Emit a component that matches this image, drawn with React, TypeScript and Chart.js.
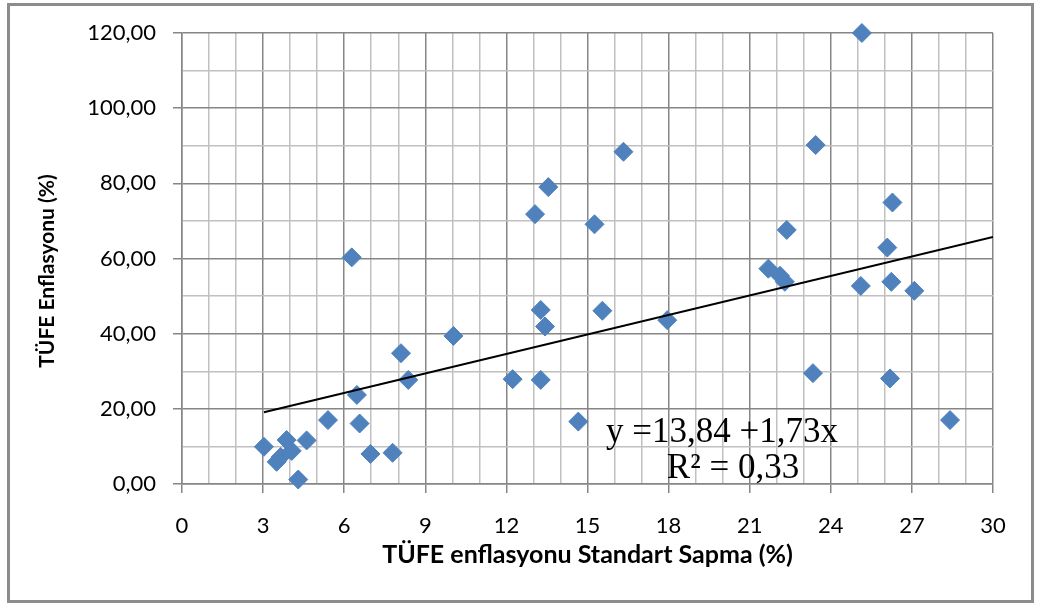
import React, { useEffect, useRef } from "react";
import { Chart, registerables } from "chart.js";

Chart.register(...registerables);

// Data
const stdDevValues: number[] = [
  3.03, 3.5, 3.65, 3.87, 4.06, 4.3, 4.61, 5.4, 6.28, 6.47, 6.57, 6.97, 7.79, 8.1,
  8.37, 10.04, 12.23, 13.06, 13.27, 13.27, 13.43, 13.55, 14.66, 15.26, 15.55,
  16.33, 17.95, 21.69, 22.12, 22.3, 22.37, 23.34, 23.44, 25.11, 25.15, 26.09,
  26.19, 26.24, 26.28, 27.09, 28.41,
];
const inflationValues: number[] = [
  9.9, 5.9, 7.2, 11.7, 8.8, 1.2, 11.6, 17.0, 60.3, 23.7, 16.1, 8.0, 8.3, 34.8,
  27.7, 39.4, 27.9, 71.8, 46.3, 27.7, 41.9, 79.0, 16.6, 69.1, 46.1, 88.4, 43.6,
  57.3, 55.4, 53.8, 67.6, 29.5, 90.2, 52.7, 120.0, 62.9, 28.1, 53.8, 74.9, 51.4,
  17.0,
];

const trendIntercept = 13.84;
const trendSlope = 1.73;
const trendStartX = 3.03;
const trendEndX = 30;

const xTickStep = 3;
const yTickStep = 20;
const equationLine1 = "y =13,84 +1,73x";
const equationLine2 = "R\u00B2 = 0,33";
const xTitle = "TÜFE enflasyonu Standart Sapma (%)";
const yTitle = "TÜFE Enflasyonu (%)";

const MAJOR = "#868686";
const MINOR = "#C0C0C0";
const BLUE = "#4F81BD";

export default function App() {
  const canvasRef = useRef<HTMLCanvasElement | null>(null);

  useEffect(() => {
    document.body.style.margin = "0";
    const canvas = canvasRef.current;
    if (!canvas) return;

    const points = stdDevValues.map((x, i) => ({ x, y: inflationValues[i] }));
    const trend = [trendStartX, trendEndX].map((x) => ({
      x,
      y: trendIntercept + trendSlope * x,
    }));

    const decorPlugin = {
      id: "decor",
      afterDraw(chart: any) {
        const ctx = chart.ctx as CanvasRenderingContext2D;
        ctx.save();
        // outer border
        ctx.strokeStyle = "#8C8C8C";
        ctx.lineWidth = 3;
        ctx.strokeRect(8.5, 4.5, 1024, 597);
        // y title
        ctx.fillStyle = "#000";
        ctx.font = "bold 21px Lato";
        ctx.textAlign = "center";
        ctx.textBaseline = "middle";
        ctx.translate(47, 271);
        ctx.rotate(-Math.PI / 2);
        ctx.fillText(yTitle, 0, 0);
        ctx.restore();

        ctx.save();
        ctx.fillStyle = "#000";
        ctx.font = "35px 'Liberation Serif'";
        ctx.textAlign = "center";
        ctx.textBaseline = "alphabetic";
        ctx.fillText(equationLine1, 722, 442);
        ctx.fillText(equationLine2, 733, 478);
        ctx.restore();
      },
    };

    const chart = new Chart(canvas, {
      type: "scatter",
      data: {
        datasets: [
          {
            data: trend,
            showLine: true,
            borderColor: "#000000",
            borderWidth: 2,
            pointRadius: 0,
            order: 0,
          },
          {
            data: points,
            pointStyle: "rectRot",
            pointRadius: 9.5,
            pointBackgroundColor: BLUE,
            pointBorderColor: BLUE,
            pointBorderWidth: 1,
            clip: false,
            order: 1,
          },
        ],
      },
      options: {
        responsive: false,
        animation: false,
        events: [],
        layout: { padding: { left: 0, top: 33, right: 47, bottom: 0 } },
        plugins: {
          legend: { display: false },
          tooltip: { enabled: false },
        },
        scales: {
          x: {
            type: "linear",
            min: 0,
            max: 30,
            afterFit: (scale: any) => {
              scale.height = 120;
            },
            ticks: {
              stepSize: 1,
              autoSkip: false,
              maxRotation: 0,
              padding: 20,
              color: "#000",
              font: { family: "Lato", size: 22 },
              callback: (v: any) => (Number(v) % xTickStep === 0 ? String(v) : ""),
            },
            grid: {
              color: (c: any) => (c.tick && c.tick.value % xTickStep === 0 ? MAJOR : MINOR),
              lineWidth: 1.5,
              tickLength: 9,
              tickColor: (c: any) =>
                c.tick && c.tick.value % xTickStep === 0 ? MAJOR : "rgba(0,0,0,0)",
            },
            border: { color: MAJOR, width: 1.5 },
            title: {
              display: true,
              text: xTitle,
              color: "#000",
              font: { family: "Lato", size: 25, weight: "bold" },
              padding: { top: 0, bottom: 34 },
            },
          },
          y: {
            type: "linear",
            min: 0,
            max: 120,
            afterFit: (scale: any) => {
              scale.width = 182;
            },
            ticks: {
              stepSize: 10,
              autoSkip: false,
              padding: 17,
              color: "#000",
              font: { family: "Lato", size: 22 },
              callback: (v: any) =>
                Number(v) % yTickStep === 0 ? Number(v).toFixed(2).replace(".", ",") : "",
            },
            grid: {
              color: (c: any) => (c.tick && c.tick.value % yTickStep === 0 ? MAJOR : MINOR),
              lineWidth: 1.5,
              tickLength: 9,
              tickColor: (c: any) =>
                c.tick && c.tick.value % yTickStep === 0 ? MAJOR : "rgba(0,0,0,0)",
            },
            border: { color: MAJOR, width: 1.5 },
          },
        },
      },
      plugins: [decorPlugin],
    });

    return () => chart.destroy();
  }, []);

  return <canvas ref={canvasRef} width={1040} height={604} style={{ display: "block" }} />;
}
